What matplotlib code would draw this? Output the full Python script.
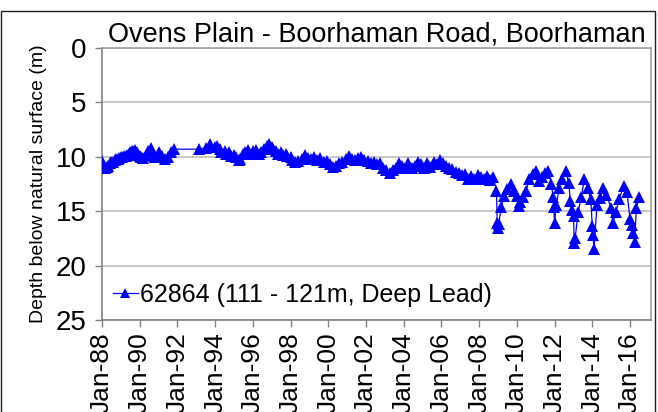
import matplotlib
matplotlib.use("Agg")
import matplotlib.pyplot as plt
import matplotlib.dates as mdates
from matplotlib.patches import Rectangle
import pandas as pd

plt.rcParams['font.family'] = ['Liberation Sans', 'DejaVu Sans']

title = "Ovens Plain - Boorhaman Road, Boorhaman"
y_label = "Depth below natural surface (m)"
series_label = "62864 (111 - 121m, Deep Lead)"

dates = [
    "1988-01-05", "1988-03-01", "1988-04-01", "1988-05-01", "1988-06-01", "1988-07-01",
    "1988-08-01", "1988-09-01", "1988-10-01", "1988-11-01", "1988-12-01", "1989-01-01",
    "1989-02-01", "1989-03-01", "1989-04-01", "1989-05-01", "1989-06-01", "1989-07-01",
    "1989-08-01", "1989-09-01", "1989-10-01", "1989-11-01", "1989-12-01", "1990-01-01",
    "1990-02-01", "1990-03-01", "1990-05-01", "1990-06-01", "1990-08-01", "1990-09-01",
    "1990-10-01", "1990-11-01", "1991-01-01", "1991-03-01", "1991-05-01", "1991-07-01",
    "1991-09-01", "1991-11-01", "1993-03-01", "1993-07-01", "1993-10-01", "1994-01-01",
    "1994-02-01", "1994-04-01", "1994-05-01", "1994-07-01", "1994-08-01", "1994-10-01",
    "1994-11-01", "1995-01-01", "1995-02-01", "1995-04-01", "1995-05-01", "1995-07-01",
    "1995-08-01", "1995-10-01", "1995-11-01", "1996-01-01", "1996-03-01", "1996-05-01",
    "1996-06-01", "1996-08-01", "1996-10-01", "1996-11-01", "1997-01-01", "1997-02-01",
    "1997-04-01", "1997-05-01", "1997-07-01", "1997-08-01", "1997-10-01", "1997-11-01",
    "1998-01-01", "1998-02-01", "1998-04-01", "1998-06-01", "1998-08-01", "1998-10-01",
    "1998-12-01", "1999-02-01", "1999-04-01", "1999-06-01", "1999-08-01", "1999-10-01",
    "1999-12-01", "2000-02-01", "2000-04-01", "2000-06-01", "2000-08-01", "2000-10-01",
    "2000-12-01", "2001-02-01", "2001-04-01", "2001-06-01", "2001-08-01", "2001-10-01",
    "2001-12-01", "2002-02-01", "2002-04-01", "2002-06-01", "2002-08-01", "2002-10-01",
    "2002-12-01", "2003-02-01", "2003-04-01", "2003-06-01", "2003-08-01", "2003-10-01",
    "2003-12-01", "2004-02-01", "2004-04-01", "2004-06-01", "2004-08-01", "2004-10-01",
    "2004-12-01", "2005-02-01", "2005-04-01", "2005-06-01", "2005-08-01", "2005-10-01",
    "2005-12-01", "2006-02-01", "2006-04-01", "2006-06-01", "2006-08-01", "2006-10-01",
    "2006-12-01", "2007-02-01", "2007-04-01", "2007-06-01", "2007-08-01", "2007-10-01",
    "2007-12-01", "2008-02-01", "2008-04-01", "2008-06-01", "2008-08-01", "2008-10-01",
    "2008-12-01", "2008-12-15", "2009-01-01", "2009-01-15", "2009-03-01", "2009-05-01",
    "2009-07-01", "2009-09-01", "2009-11-01", "2010-01-01", "2010-02-01", "2010-03-01",
    "2010-05-01", "2010-07-01", "2010-09-01", "2010-11-01", "2011-01-01", "2011-03-01",
    "2011-05-01", "2011-07-01", "2011-09-01", "2011-11-01", "2011-12-01", "2011-12-15",
    "2012-01-01", "2012-02-01", "2012-04-01", "2012-06-01", "2012-08-01", "2012-10-01",
    "2012-11-01", "2012-12-01", "2013-01-01", "2013-01-15", "2013-02-01", "2013-04-01",
    "2013-06-01", "2013-08-01", "2013-10-01", "2013-12-01", "2014-01-01", "2014-01-15",
    "2014-02-01", "2014-04-01", "2014-06-01", "2014-08-01", "2014-10-01", "2015-01-01",
    "2015-02-01", "2015-04-01", "2015-06-01", "2015-09-01", "2015-11-01", "2016-01-01",
    "2016-02-01", "2016-03-01", "2016-04-01", "2016-05-01", "2016-07-01",
]

depths = [
    10.4, 11.0, 10.9, 10.8, 10.6, 10.5,
    10.5, 10.3, 10.2, 10.2, 10.1, 10.0,
    10.0, 9.9, 9.9, 9.8, 9.7, 9.6,
    9.5, 9.5, 9.4, 9.6, 9.8, 9.9,
    10.0, 10.1, 9.8, 9.5, 9.2, 9.5,
    9.9, 10.0, 9.6, 9.9, 10.2, 10.0,
    9.6, 9.3, 9.3, 9.2, 8.8, 9.1,
    9.0, 9.3, 9.6, 9.5, 9.7, 9.6,
    9.9, 9.8, 10.0, 10.3, 10.2, 9.7,
    9.6, 9.4, 9.7, 9.5, 9.4, 9.7,
    9.6, 9.3, 9.0, 8.8, 9.1, 9.3,
    9.5, 9.7, 9.6, 9.8, 9.7, 9.9,
    10.0, 10.3, 10.5, 10.4, 10.2, 9.8,
    10.1, 10.2, 10.0, 10.3, 10.1, 10.5,
    10.4, 10.7, 10.9, 10.8, 10.6, 10.5,
    10.2, 9.9, 10.2, 10.3, 10.1, 10.0,
    10.3, 10.4, 10.6, 10.5, 10.7, 10.6,
    11.0, 11.2, 11.5, 11.2, 11.0, 10.6,
    10.8, 11.0, 10.6, 11.0, 10.8, 10.5,
    10.7, 11.0, 10.6, 10.9, 10.5, 10.7,
    10.3, 10.6, 10.8, 11.0, 11.1, 11.4,
    11.5, 11.7, 11.6, 12.0, 11.8, 12.0,
    11.7, 11.9, 12.0, 11.8, 12.1, 11.9,
    13.1, 16.1, 16.5, 16.2, 14.6, 13.6,
    13.0, 12.5, 13.1, 13.6, 14.5, 14.2,
    13.7, 13.1, 12.0, 11.6, 11.3, 12.2,
    11.9, 11.5, 11.3, 12.5, 13.7, 14.6,
    16.1, 14.4, 12.9, 12.0, 11.3, 12.4,
    14.1, 14.9, 15.4, 17.9, 17.5, 15.1,
    13.7, 12.0, 12.9, 13.9, 16.4, 17.2,
    18.5, 14.4, 13.8, 12.9, 13.5, 14.7,
    16.1, 15.1, 13.9, 12.7, 13.2, 15.7,
    16.3, 17.0, 17.8, 14.75, 13.7,
]

y_ticks = [0, 5, 10, 15, 20, 25]
x_tick_years = list(range(1988, 2017, 2))

x = pd.to_datetime(dates)

fig = plt.figure(figsize=(6.58, 4.12), dpi=100)
ax = fig.add_axes([102/658, 1 - 320/412, 549/658, 272/412])

blue = "#0000FF"
ax.plot(x, depths, color=blue, lw=0.9, marker="^", markersize=8.5,
        markeredgewidth=0, markerfacecolor=blue, label=series_label, zorder=3)

ax.set_ylim(25, 0)
ax.set_yticks(y_ticks)
ax.set_xlim(pd.Timestamp("1988-01-01"), pd.Timestamp("2017-02-10"))
ax.set_xticks([pd.Timestamp(f"{y}-01-01") for y in x_tick_years])
ax.xaxis.set_major_formatter(mdates.DateFormatter("%b-%y"))

ax.grid(axis="y", color="#c0c0c0", lw=1.2)
ax.set_axisbelow(True)
for s in ax.spines.values():
    s.set_color("#a0a0a0")
    s.set_linewidth(1.2)
ax.spines["left"].set_color("#808080")
ax.spines["bottom"].set_color("#808080")

ax.tick_params(axis="y", labelsize=20, length=5, width=1, color="#808080", pad=6)
ax.tick_params(axis="x", labelsize=19, length=5, width=1, color="#808080", pad=4,
               labelrotation=90)

ax.set_ylabel(y_label, fontsize=14, labelpad=6)
ax.set_title(title, fontsize=19.5, pad=3)

leg = ax.legend(loc="center left", bbox_to_anchor=(0.02, 0.092), frameon=False,
                fontsize=18, handlelength=1.0, handletextpad=0.1, borderpad=0,
                borderaxespad=0, markerscale=0.85)

fig.add_artist(Rectangle((0.002, -0.01), 0.994, 0.983, transform=fig.transFigure,
                         fill=False, edgecolor="#202020", lw=1.0))

fig.savefig("out.png", dpi=100)
